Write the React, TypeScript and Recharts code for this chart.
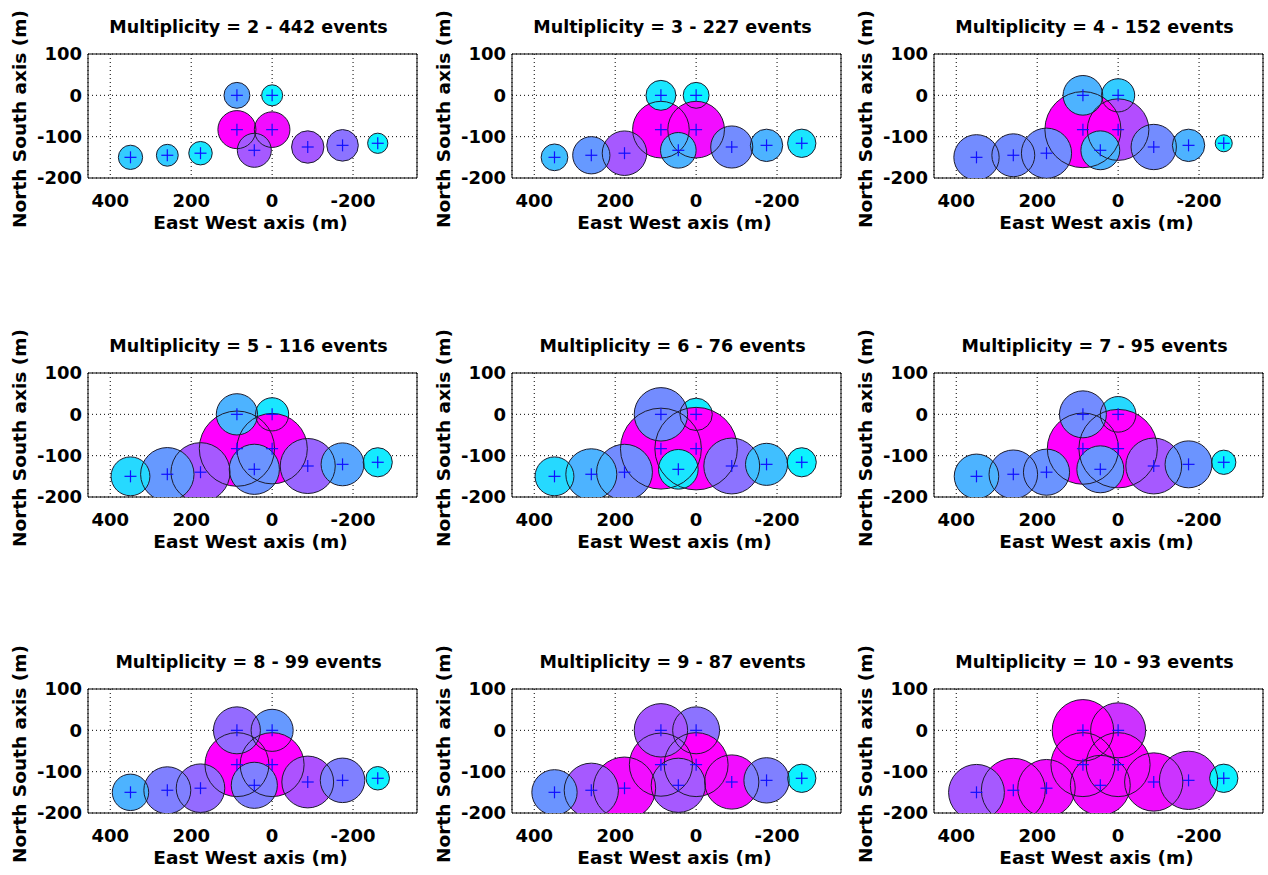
import React from 'react';
import { ScatterChart, Scatter, XAxis, YAxis, ZAxis, CartesianGrid, ReferenceArea } from 'recharts';

// station positions (m)
const DET_X = [350, 259, 177, 87, 87, 0, 0, 44, -88, -174, -261];
const DET_Y = [-150, -145, -140, -83, 0, 0, -83, -133, -125, -121, -116];

// which station is painted first (central ones under the outer ones)
const DRAW_ORDER = [5, 6, 3, 4, 7, 2, 8, 1, 9, 0, 10];

const MULTIPLICITY = [2, 3, 4, 5, 6, 7, 8, 9, 10];
const EVENTS = [442, 227, 152, 116, 76, 95, 99, 87, 93];

// circle radius (m) for each station, one row per multiplicity
const RADIUS = [
  [30, 27, 29, 47, 32, 26, 44, 42, 40, 39, 25],
  [33, 46, 55, 70, 37, 32, 70, 44, 52, 40, 35],
  [56, 53, 62, 94, 49, 41, 76, 48, 56, 40, 21],
  [48, 66, 73, 93, 51, 41, 87, 62, 68, 53, 36],
  [48, 63, 69, 100, 66, 40, 102, 49, 69, 52, 36],
  [55, 60, 57, 88, 58, 44, 97, 58, 69, 58, 30],
  [45, 58, 60, 79, 58, 52, 79, 57, 64, 55, 29],
  [56, 67, 77, 78, 66, 58, 79, 67, 67, 56, 35],
  [69, 79, 71, 79, 76, 68, 79, 74, 72, 72, 35],
];

// colour level, 0 = cyan ... 1 = magenta
const LEVEL = [
  [0.2, 0.2, 0.1, 1, 0.35, 0.05, 0.95, 0.65, 0.65, 0.55, 0.05],
  [0.25, 0.4, 0.65, 1, 0.1, 0.05, 0.95, 0.3, 0.45, 0.3, 0.1],
  [0.45, 0.45, 0.45, 1, 0.3, 0.2, 0.7, 0.3, 0.45, 0.3, 0.05],
  [0.15, 0.4, 0.65, 1, 0.3, 0.1, 1, 0.42, 0.6, 0.35, 0.08],
  [0.15, 0.3, 0.45, 1, 0.45, 0.08, 1, 0.1, 0.55, 0.25, 0.05],
  [0.3, 0.42, 0.42, 1, 0.45, 0.15, 1, 0.42, 0.65, 0.42, 0.05],
  [0.3, 0.5, 0.58, 1, 0.58, 0.4, 1, 0.5, 0.68, 0.5, 0.05],
  [0.42, 0.65, 0.95, 0.95, 0.65, 0.55, 1, 0.65, 0.95, 0.5, 0.05],
  [0.65, 0.95, 0.95, 1, 1, 0.8, 1, 0.95, 0.95, 0.8, 0.05],
];

const X_TICKS = [400, 200, 0, -200];
const Y_TICKS = [100, 0, -100, -200];

const X_MIN = -358;
const X_MAX = 455;
const Y_MIN = -200;
const Y_MAX = 100;

const PLOT_W = 329;
const PLOT_H = 124;
const AXIS_W = 88;
const TOP = 54;
const XAXIS_H = 82;
const CHART_W = AXIS_W + PLOT_W + 5;
const CHART_H = TOP + PLOT_H + XAXIS_H;
const COL_LEFT = [0, 424, 846];
const ROW_TOP = [0, 319, 635];
const PX_PER_M = PLOT_W / (X_MAX - X_MIN);

const FONT = 'DejaVu Sans';

const cool = (c: number) =>
  `rgb(${Math.round(255 * c)},${Math.round(255 * (1 - c))},255)`;

const radiusOf = (p: any) => {
  if (typeof p.size === 'number') return Math.sqrt(Math.max(p.size, 0) / Math.PI);
  return (p.width || 0) / 2;
};

const FillDot = (p: any) => (
  <circle cx={p.cx} cy={p.cy} r={radiusOf(p)} fill={cool(p.payload.level)} stroke="none" />
);

const RingDot = (p: any) => (
  <circle cx={p.cx} cy={p.cy} r={radiusOf(p)} fill="none" stroke="#1c1c2e" strokeWidth={1} />
);

const CrossDot = (p: any) => (
  <g stroke="#1010ff" strokeWidth={1.2}>
    <line x1={p.cx - 6} x2={p.cx + 6} y1={p.cy} y2={p.cy} />
    <line x1={p.cx} x2={p.cx} y1={p.cy - 6} y2={p.cy + 6} />
  </g>
);

const XLabel = (props: any) => {
  const vb = props.viewBox || { x: AXIS_W, y: TOP + PLOT_H, width: PLOT_W };
  return (
    <text
      x={vb.x + vb.width / 2 - 2}
      y={vb.y + 51}
      textAnchor="middle"
      fontFamily={FONT}
      fontWeight="bold"
      fontSize={18.5}
      fill="#000"
    >
      East West axis (m)
    </text>
  );
};

const YLabel = (props: any) => {
  const vb = props.viewBox || { y: TOP, height: PLOT_H };
  const cx = 26;
  const cy = vb.y + vb.height / 2 + 3;
  return (
    <text
      x={cx}
      y={cy}
      transform={`rotate(-90, ${cx}, ${cy})`}
      textAnchor="middle"
      fontFamily={FONT}
      fontWeight="bold"
      fontSize={18.5}
      fill="#000"
    >
      North South axis (m)
    </text>
  );
};

const tickStyle = { fill: '#000', fontSize: 18, fontFamily: FONT, fontWeight: 'bold' };

const Panel = ({ idx }: { idx: number }) => {
  const data = DRAW_ORDER.map((i) => ({
    x: DET_X[i],
    y: DET_Y[i],
    z: RADIUS[idx][i] * RADIUS[idx][i],
    level: LEVEL[idx][i],
  }));

  return (
    <div
      style={{
        position: 'absolute',
        left: COL_LEFT[idx % 3],
        top: ROW_TOP[Math.floor(idx / 3)],
        width: CHART_W,
        height: CHART_H,
      }}
    >
      <svg style={{ position: 'absolute', left: 0, top: 0 }} width={CHART_W} height={TOP}>
        <text
          x={AXIS_W + PLOT_W / 2 - 4}
          y={TOP - 21}
          textAnchor="middle"
          fontFamily={FONT}
          fontWeight="bold"
          fontSize={17.5}
          fill="#000"
        >
          {`Multiplicity = ${MULTIPLICITY[idx]} - ${EVENTS[idx]} events`}
        </text>
      </svg>
      <ScatterChart
        width={CHART_W}
        height={CHART_H}
        margin={{ top: TOP, right: 5, bottom: 0, left: 0 }}
      >
        <CartesianGrid stroke="#000" strokeDasharray="1 3" />
        <XAxis
          type="number"
          dataKey="x"
          domain={[X_MIN, X_MAX]}
          reversed
          allowDataOverflow
          ticks={X_TICKS}
          height={XAXIS_H}
          axisLine={false}
          tickLine={false}
          tickSize={6}
          tickMargin={10}
          tick={tickStyle}
          label={XLabel}
        />
        <YAxis
          type="number"
          dataKey="y"
          domain={[Y_MIN, Y_MAX]}
          allowDataOverflow
          ticks={Y_TICKS}
          width={AXIS_W}
          axisLine={false}
          tickLine={false}
          tickSize={2}
          tickMargin={4}
          tick={tickStyle}
          label={YLabel}
        />
        <ZAxis
          type="number"
          dataKey="z"
          domain={[0, 20000]}
          range={[0, Math.PI * PX_PER_M * PX_PER_M * 20000]}
        />
        <Scatter data={data} shape={FillDot} isAnimationActive={false} />
        <Scatter data={data} shape={RingDot} isAnimationActive={false} />
        <Scatter data={data} shape={CrossDot} isAnimationActive={false} />
        <ReferenceArea
          x1={X_MIN}
          x2={X_MAX}
          y1={Y_MIN}
          y2={Y_MAX}
          fill="none"
          stroke="#000"
          strokeWidth={1}
          ifOverflow="visible"
        />
      </ScatterChart>
    </div>
  );
};

export default function App() {
  return (
    <div
      style={{
        position: 'absolute',
        left: 0,
        top: 0,
        width: 1268,
        height: 875,
        background: '#fff',
      }}
    >
      {MULTIPLICITY.map((m, i) => (
        <Panel key={m} idx={i} />
      ))}
    </div>
  );
}
